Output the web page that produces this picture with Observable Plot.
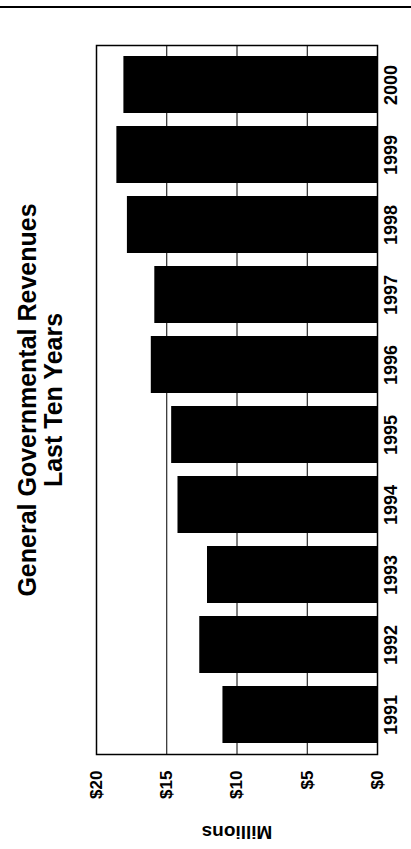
<!DOCTYPE html>
<html><head><meta charset="utf-8">
<script src="https://cdn.jsdelivr.net/npm/d3@7"></script>
<script src="https://cdn.jsdelivr.net/npm/@observablehq/plot@0.6"></script>
<style>
html,body{margin:0;padding:0;background:#fff;}
#wrap{position:relative;width:411px;height:849px;overflow:hidden;}
#topline{position:absolute;left:0;top:6px;width:411px;height:0;border-top:2px solid #000;}
#chart svg{display:block;}
</style></head><body>
<div id="wrap"><div id="topline"></div><div id="chart"></div></div>
<script>
const years = ["1991", "1992", "1993", "1994", "1995", "1996", "1997", "1998", "1999", "2000"];
const revenues = [11.0, 12.65, 12.1, 14.2, 14.65, 16.1, 15.85, 17.8, 18.55, 18.05];
const valueTicks = [0, 5, 10, 15, 20];
const gridValues = [5, 10, 15];
const titleLines = ["General Governmental Revenues", "Last Ten Years"];
const axisLabel = "Millions";

const data = years.map((year, i) => ({year, value: revenues[i]}));
const font = "'Liberation Sans', Arial, Helvetica, sans-serif";

const chart = Plot.plot({
  width: 411, height: 849,
  marginTop: 45, marginBottom: 95, marginLeft: 96, marginRight: 34,
  style: {fontFamily: font, background: "#fff", color: "#000"},
  x: {domain: [0, 20], reverse: true},
  y: {domain: years.slice().reverse(), paddingInner: 0.18, paddingOuter: 0.09},
  marks: [
    Plot.ruleX(gridValues, {stroke: "#000", strokeWidth: 1}),
    Plot.barX(data, {x: "value", y: "year", fill: "#000"}),
    Plot.frame({stroke: "#000", strokeWidth: 1.5}),
    Plot.axisX({ticks: valueTicks, anchor: "bottom", tickSize: 0, tickPadding: 16, tickRotate: -90,
      tickFormat: d => "$" + d, fontSize: 17, fontWeight: "bold", label: null}),
    Plot.axisY({anchor: "right", tickSize: 0, tickPadding: 19, tickRotate: -90,
      fontSize: 18, fontWeight: "bold", label: null}),
    Plot.text([axisLabel], {frameAnchor: "bottom", rotate: 180, dy: 71, fontSize: 19, fontWeight: "bold"}),
    Plot.text([titleLines.join("\n")], {frameAnchor: "left", textAnchor: "middle", lineAnchor: "middle",
      rotate: -90, dx: -56, fontSize: 25, fontWeight: "bold", lineHeight: 1.04})
  ]
});
document.getElementById("chart").appendChild(chart);
</script>
</body></html>
